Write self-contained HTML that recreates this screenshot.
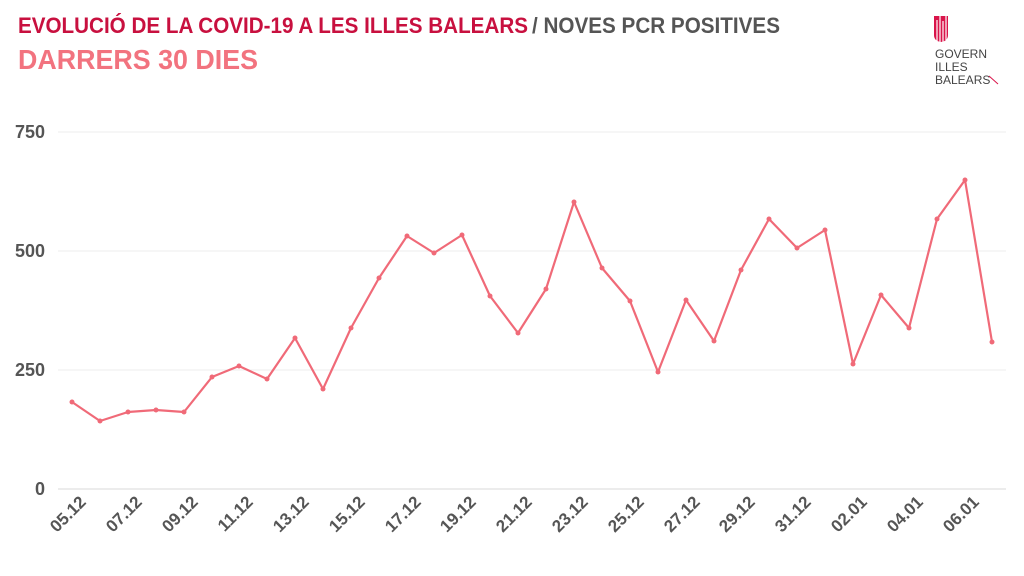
<!DOCTYPE html>
<html><head><meta charset="utf-8"><style>
html,body{margin:0;padding:0;background:#fff;}
svg{display:block;font-family:"Liberation Sans",sans-serif;}
</style></head><body>
<svg width="1024" height="576" viewBox="0 0 1024 576" xmlns="http://www.w3.org/2000/svg">
<rect width="1024" height="576" fill="#fff"/>
<text x="18" y="33" font-size="22" font-weight="bold" fill="#c8103f" textLength="510" lengthAdjust="spacingAndGlyphs">EVOLUCIÓ DE LA COVID-19 A LES ILLES BALEARS</text>
<text x="532" y="33" font-size="22" font-weight="bold" fill="#555" textLength="248" lengthAdjust="spacingAndGlyphs">/ NOVES PCR POSITIVES</text>
<text x="18" y="69" font-size="28" font-weight="bold" fill="#f2737f" textLength="240" lengthAdjust="spacingAndGlyphs">DARRERS 30 DIES</text>
<g fill="#d9144a">
<path d="M934 16 h14 v19 q0 6 -7 7 q-7 -1 -7 -7 z" fill="#d9144a"/>
<g stroke="#fff" stroke-width="1.2"><line x1="937" y1="20" x2="937" y2="41"/><line x1="940" y1="16" x2="940" y2="42"/><line x1="943" y1="21" x2="943" y2="42"/><line x1="946" y1="16" x2="946" y2="40"/></g>
</g>
<text x="935" y="58" font-size="12" fill="#444">GOVERN</text>
<text x="935" y="71" font-size="12" fill="#444">ILLES</text>
<text x="935" y="84" font-size="12" fill="#444">BALEARS</text>
<line x1="989" y1="76" x2="998" y2="84" stroke="#d9144a" stroke-width="1"/>
<g stroke="#ececec" stroke-width="1">
<line x1="58" y1="132" x2="1006" y2="132"/>
<line x1="58" y1="251" x2="1006" y2="251"/>
<line x1="58" y1="370" x2="1006" y2="370"/>
</g>
<line x1="58" y1="489" x2="1006" y2="489" stroke="#d8d8d8" stroke-width="1"/>
<g font-size="18" font-weight="bold" fill="#555" text-anchor="end">
<text x="45" y="138">750</text><text x="45" y="257">500</text><text x="45" y="376">250</text><text x="45" y="495">0</text>
</g>
<g font-size="17" font-weight="bold" fill="#555" text-anchor="end">
<text transform="translate(87,503) rotate(-45)">05.12</text>
<text transform="translate(143,503) rotate(-45)">07.12</text>
<text transform="translate(199,503) rotate(-45)">09.12</text>
<text transform="translate(254,503) rotate(-45)">11.12</text>
<text transform="translate(310,503) rotate(-45)">13.12</text>
<text transform="translate(366,503) rotate(-45)">15.12</text>
<text transform="translate(422,503) rotate(-45)">17.12</text>
<text transform="translate(477,503) rotate(-45)">19.12</text>
<text transform="translate(533,503) rotate(-45)">21.12</text>
<text transform="translate(589,503) rotate(-45)">23.12</text>
<text transform="translate(645,503) rotate(-45)">25.12</text>
<text transform="translate(701,503) rotate(-45)">27.12</text>
<text transform="translate(756,503) rotate(-45)">29.12</text>
<text transform="translate(812,503) rotate(-45)">31.12</text>
<text transform="translate(868,503) rotate(-45)">02.01</text>
<text transform="translate(924,503) rotate(-45)">04.01</text>
<text transform="translate(980,503) rotate(-45)">06.01</text>
</g>
<polyline fill="none" stroke="#f06a78" stroke-width="2.2" stroke-linejoin="round" points="72,402 100,421 128,412 156,410 184,412 212,377 239,366 267,379 295,338 323,389 351,328 379,278 407,236 434,253 462,235 490,296 518,333 546,289 574,202 602,268 630,301 658,372 686,300 714,341 741,270 769,219 797,248 825,230 853,364 881,295 909,328 937,219 965,180 992,342"/>
<g fill="#f06a78">
<circle cx="72" cy="402" r="2.5"/><circle cx="100" cy="421" r="2.5"/><circle cx="128" cy="412" r="2.5"/><circle cx="156" cy="410" r="2.5"/><circle cx="184" cy="412" r="2.5"/><circle cx="212" cy="377" r="2.5"/><circle cx="239" cy="366" r="2.5"/><circle cx="267" cy="379" r="2.5"/><circle cx="295" cy="338" r="2.5"/><circle cx="323" cy="389" r="2.5"/><circle cx="351" cy="328" r="2.5"/><circle cx="379" cy="278" r="2.5"/><circle cx="407" cy="236" r="2.5"/><circle cx="434" cy="253" r="2.5"/><circle cx="462" cy="235" r="2.5"/><circle cx="490" cy="296" r="2.5"/><circle cx="518" cy="333" r="2.5"/><circle cx="546" cy="289" r="2.5"/><circle cx="574" cy="202" r="2.5"/><circle cx="602" cy="268" r="2.5"/><circle cx="630" cy="301" r="2.5"/><circle cx="658" cy="372" r="2.5"/><circle cx="686" cy="300" r="2.5"/><circle cx="714" cy="341" r="2.5"/><circle cx="741" cy="270" r="2.5"/><circle cx="769" cy="219" r="2.5"/><circle cx="797" cy="248" r="2.5"/><circle cx="825" cy="230" r="2.5"/><circle cx="853" cy="364" r="2.5"/><circle cx="881" cy="295" r="2.5"/><circle cx="909" cy="328" r="2.5"/><circle cx="937" cy="219" r="2.5"/><circle cx="965" cy="180" r="2.5"/><circle cx="992" cy="342" r="2.5"/>
</g>
</svg>
</body></html>
